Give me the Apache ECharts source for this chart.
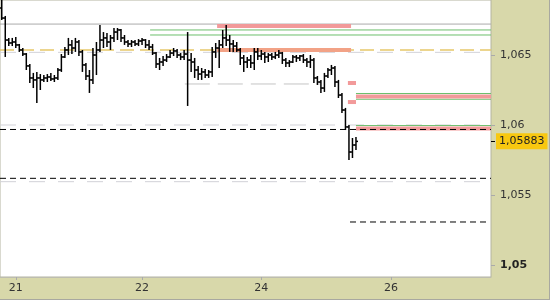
<!DOCTYPE html>
<html><head><meta charset="utf-8">
<script src="https://cdn.jsdelivr.net/npm/echarts@6/dist/echarts.min.js"></script>
<style>html,body{margin:0;padding:0;background:#d8d8aa}#c{width:550px;height:300px}</style>
</head><body><div id="c"></div>
<script>
// ---- data ----
const dayLabels = ['21', '22', '24', '26'];
const dayLabelIndex = [4, 40, 74, 111];
const slotCount = 140;

const opens = [1.06836,1.06764,1.06607,1.06586,1.06593,1.06572,1.06536,1.06507,1.06422,1.06336,
1.06322,1.06336,1.06322,1.06336,1.06343,1.06329,1.06336,1.06393,1.06486,1.06536,
1.06572,1.06550,1.06593,1.06522,1.06429,1.06350,1.06322,1.06500,1.06536,1.06607,
1.06622,1.06593,1.06622,1.06664,1.06679,1.06622,1.06593,1.06579,1.06593,1.06579,
1.06600,1.06607,1.06572,1.06557,1.06514,1.06436,1.06450,1.06464,1.06486,1.06514,
1.06529,1.06500,1.06486,1.06507,1.06464,1.06450,1.06393,1.06364,1.06379,1.06357,
1.06379,1.06522,1.06550,1.06572,1.06622,1.06607,1.06579,1.06564,1.06536,1.06479,
1.06450,1.06464,1.06443,1.06522,1.06493,1.06507,1.06486,1.06500,1.06486,1.06500,
1.06514,1.06464,1.06443,1.06450,1.06486,1.06479,1.06493,1.06464,1.06450,1.06464,
1.06336,1.06307,1.06264,1.06350,1.06393,1.06407,1.06307,1.06214,1.06107,1.05986,
1.05807,1.05857];
const highs = [1.06914,1.06779,1.06622,1.06622,1.06629,1.06579,1.06550,1.06514,1.06436,1.06372,
1.06379,1.06364,1.06357,1.06364,1.06372,1.06357,1.06407,1.06507,1.06557,1.06622,
1.06607,1.06622,1.06607,1.06536,1.06443,1.06393,1.06550,1.06593,1.06714,1.06664,
1.06657,1.06643,1.06693,1.06693,1.06686,1.06643,1.06607,1.06607,1.06607,1.06614,
1.06622,1.06614,1.06607,1.06579,1.06522,1.06479,1.06493,1.06507,1.06536,1.06550,
1.06543,1.06514,1.06536,1.06664,1.06514,1.06479,1.06422,1.06407,1.06400,1.06393,
1.06557,1.06586,1.06607,1.06679,1.06714,1.06643,1.06607,1.06593,1.06550,1.06500,
1.06486,1.06500,1.06550,1.06550,1.06536,1.06522,1.06514,1.06514,1.06522,1.06536,
1.06522,1.06479,1.06464,1.06500,1.06500,1.06500,1.06507,1.06479,1.06500,1.06479,
1.06350,1.06322,1.06372,1.06407,1.06429,1.06422,1.06322,1.06229,1.06122,1.06000,
1.05907,1.05914];
const lows = [1.06750,1.06486,1.06564,1.06564,1.06550,1.06522,1.06493,1.06393,1.06300,1.06264,
1.06157,1.06250,1.06307,1.06307,1.06314,1.06307,1.06322,1.06379,1.06479,1.06500,
1.06507,1.06522,1.06493,1.06379,1.06322,1.06229,1.06293,1.06357,1.06522,1.06550,
1.06557,1.06536,1.06593,1.06607,1.06593,1.06572,1.06557,1.06557,1.06564,1.06564,
1.06572,1.06550,1.06536,1.06500,1.06407,1.06393,1.06422,1.06450,1.06479,1.06493,
1.06479,1.06464,1.06464,1.06136,1.06379,1.06336,1.06322,1.06322,1.06336,1.06336,
1.06343,1.06479,1.06407,1.06550,1.06564,1.06522,1.06522,1.06522,1.06429,1.06379,
1.06407,1.06407,1.06393,1.06464,1.06464,1.06443,1.06450,1.06464,1.06471,1.06479,
1.06436,1.06414,1.06414,1.06443,1.06450,1.06457,1.06443,1.06414,1.06407,1.06300,
1.06286,1.06229,1.06236,1.06336,1.06357,1.06272,1.06193,1.06086,1.05964,1.05750,
1.05764,1.05822];
const closes = [1.06764,1.06607,1.06586,1.06593,1.06572,1.06536,1.06507,1.06422,1.06336,1.06322,
1.06336,1.06322,1.06336,1.06343,1.06329,1.06336,1.06393,1.06486,1.06536,1.06572,
1.06550,1.06593,1.06522,1.06429,1.06350,1.06322,1.06500,1.06536,1.06607,1.06622,
1.06593,1.06622,1.06664,1.06679,1.06622,1.06593,1.06579,1.06593,1.06579,1.06600,
1.06607,1.06572,1.06557,1.06514,1.06436,1.06450,1.06464,1.06486,1.06514,1.06529,
1.06500,1.06486,1.06507,1.06464,1.06450,1.06393,1.06364,1.06379,1.06357,1.06379,
1.06522,1.06550,1.06572,1.06622,1.06607,1.06579,1.06564,1.06536,1.06479,1.06450,
1.06464,1.06443,1.06522,1.06493,1.06507,1.06486,1.06500,1.06486,1.06500,1.06514,
1.06464,1.06443,1.06450,1.06486,1.06479,1.06493,1.06464,1.06450,1.06464,1.06336,
1.06307,1.06264,1.06350,1.06393,1.06407,1.06307,1.06214,1.06107,1.05986,1.05807,
1.05857,1.05883];

// horizontal levels: [value, fromSlot, toSlot]
const grayLevels = [[1.06721, 0, 140]];
const greenLevels = [[1.06679, 42.8, 140], [1.06643, 42.8, 140],
  [1.06225, 101.5, 140], [1.06184, 101.5, 140], [1.05996, 101.5, 140]];
const yellowDashLevels = [[1.06536, 0, 140]];
const paleDashLevels = [[1.06519, 0, 140], [1.06000, 0, 140], [1.05595, 0, 140]];
const grayDashLevels = [[1.06293, 52.7, 91.2]];
const redBands = [[1.06707, 61.9, 100.1], [1.06300, 99.2, 101.5], [1.06164, 99.2, 101.5],
  [1.06204, 101.5, 140], [1.05975, 101.5, 140]];
const orangeBands = [[1.06536, 61.9, 100.1]];
const blackDashLevels = [[1.05968, 0, 140], [1.05619, 0, 140], [1.05307, 99.8, 138.9]];
const yMin = 1.04914, yMax = 1.06893;

// ---- build ----
const cats = [];
for (let i = 0; i < slotCount; i++) {
  const k = dayLabelIndex.indexOf(i);
  cats.push(k >= 0 ? dayLabels[k] : '');
}
const ohlc = opens.map((o, i) => [i, o, highs[i], lows[i], closes[i]]);
const lastClose = closes[closes.length - 1];
const fmt = v => {
  let s = (+v.toFixed(5)).toString();
  return s.replace('.', ',');
};
const isTickValue = v => Math.abs(v * 200 - Math.round(v * 200)) < 1e-6;

function levelSeries(list, style, z) {
  return list.map(l => ({
    type: 'line', xAxisIndex: 1, yAxisIndex: 0, symbol: 'none', silent: true, z: z,
    animation: false, lineStyle: style,
    data: [[l[1], l[0]], [l[2], l[0]]]
  }));
}

function renderItem(params, api) {
  const x = api.value(0);
  const o = api.coord([x, api.value(1)]);
  const h = api.coord([x, api.value(2)]);
  const l = api.coord([x, api.value(3)]);
  const c = api.coord([x, api.value(4)]);
  const w = 2;
  const st = { stroke: '#000', lineWidth: 1.5 };
  return { type: 'group', children: [
    { type: 'line', shape: { x1: h[0], y1: h[1], x2: l[0], y2: l[1] }, style: st },
    { type: 'line', shape: { x1: o[0] - w, y1: o[1], x2: o[0], y2: o[1] }, style: st },
    { type: 'line', shape: { x1: c[0], y1: c[1], x2: c[0] + w, y2: c[1] }, style: st }
  ]};
}

const chart = echarts.init(document.getElementById('c'), null, { renderer: 'canvas' });
const series = [].concat(
  levelSeries(paleDashLevels, { color: '#d2d2d8', width: 1, type: [16, 13] }, 1),
  levelSeries(grayLevels, { color: '#aaaaaa', width: 1 }, 2),
  levelSeries(yellowDashLevels, { color: '#e6c86a', width: 1.5, type: [14, 6] }, 2),
  levelSeries(grayDashLevels, { color: '#c4c4c4', width: 1, type: [25, 8] }, 2),
  levelSeries(greenLevels, { color: '#6cbf6c', width: 1 }, 3),
  levelSeries(redBands, { color: '#f29a9a', width: 4 }, 4),
  levelSeries(orangeBands, { color: '#f2a286', width: 4 }, 4),
  levelSeries(blackDashLevels, { color: '#000', width: 1, type: [6, 4] }, 5),
  [{
    type: 'custom', xAxisIndex: 0, yAxisIndex: 0, renderItem: renderItem, clip: true, z: 10,
    animation: false, encode: { x: 0, y: [1, 2, 3, 4] }, data: ohlc
  }, {
    type: 'line', xAxisIndex: 1, yAxisIndex: 0, symbol: 'none', silent: true, z: 12,
    animation: false, lineStyle: { width: 0, color: 'rgba(0,0,0,0)' },
    data: [[0, lastClose], [slotCount, lastClose]],
    endLabel: {
      show: true, distance: 5, formatter: () => fmt(lastClose),
      backgroundColor: '#f8c810', color: '#222', padding: [3, 3, 2, 3],
      fontFamily: 'DejaVu Sans', fontSize: 11
    }
  }]
);

chart.setOption({
  backgroundColor: '#d8d8aa',
  animation: false,
  grid: { left: 0, top: 0, right: 59, bottom: 23, show: true, backgroundColor: '#ffffff',
          borderColor: '#b4b4a0', borderWidth: 1 },
  xAxis: [{
    type: 'category', data: cats, boundaryGap: true,
    axisLine: { show: true, lineStyle: { color: '#bdbdb0' } },
    axisTick: { show: true, alignWithLabel: true, length: 3, interval: (i, v) => v !== '',
                lineStyle: { color: '#aaaaaa' } },
    axisLabel: { interval: (i, v) => v !== '', color: '#333', fontFamily: 'DejaVu Sans',
                 fontSize: 11, margin: 6 },
    splitLine: { show: false }
  }, {
    type: 'value', min: 0, max: slotCount, show: false
  }],
  yAxis: [{
    type: 'value', position: 'right', min: yMin, max: yMax, splitNumber: 4,
    axisLine: { show: false },
    axisTick: { show: false },
    splitLine: { show: false },
    axisLabel: {
      margin: 9, color: '#333', fontFamily: 'DejaVu Sans', fontSize: 11,
      showMinLabel: false, showMaxLabel: false,
      formatter: v => !isTickValue(v) ? '' : (Math.abs(v - 1.05) < 1e-9 ? '{b|' + fmt(v) + '}' : fmt(v)),
      rich: { b: { fontWeight: 'bold', color: '#222', fontFamily: 'DejaVu Sans', fontSize: 11 } }
    }
  }, {
    type: 'value', position: 'right', min: yMin, max: yMax, splitNumber: 4,
    axisLine: { show: false }, splitLine: { show: false },
    axisTick: { show: true, length: 4, lineStyle: { color: '#aaaaaa' },
                customValues: [1.05, 1.055, 1.06, 1.065] },
    axisLabel: { show: false }
  }, {
    type: 'value', position: 'right', min: yMin, max: yMax, splitNumber: 4,
    axisLine: { show: false }, splitLine: { show: false },
    axisTick: { show: true, length: 4, lineStyle: { color: '#000000' },
                customValues: [lastClose] },
    axisLabel: { show: false }
  }],
  graphic: [
    { type: 'line', shape: { x1: 0, y1: 299.5, x2: 550, y2: 299.5 }, style: { stroke: '#a8a8a0', lineWidth: 1 } },
    { type: 'line', shape: { x1: 549.5, y1: 0, x2: 549.5, y2: 300 }, style: { stroke: '#a8a8a0', lineWidth: 1 } }
  ],
  series: series
});
</script>
</body></html>
